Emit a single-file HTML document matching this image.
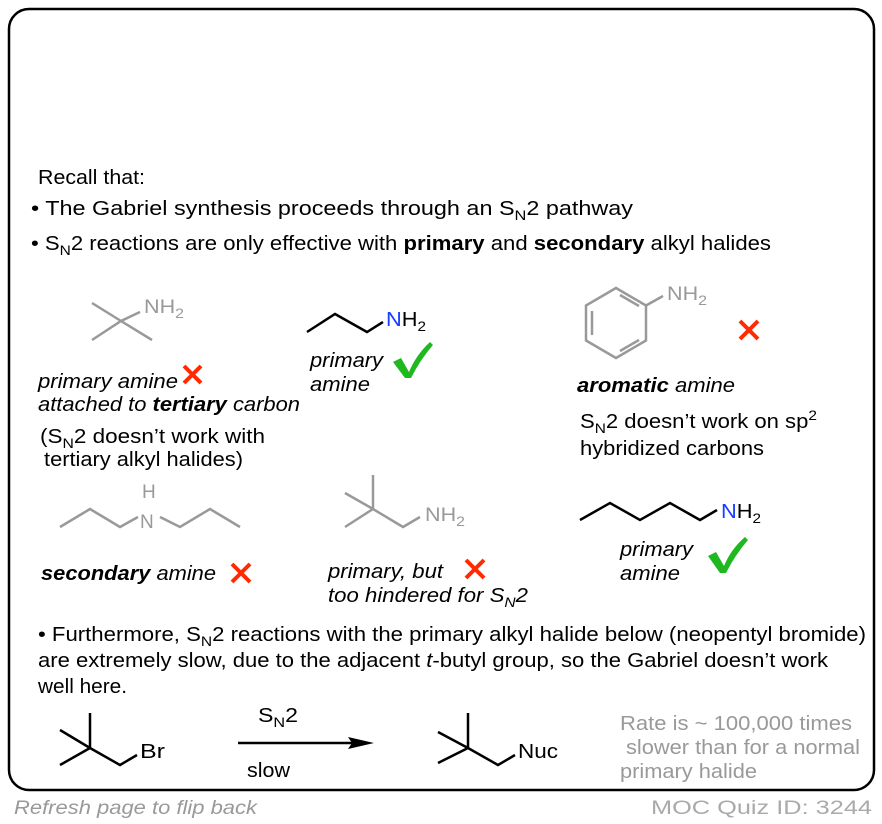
<!DOCTYPE html>
<html><head><meta charset="utf-8"><style>
html,body{margin:0;padding:0;background:#fff;}
svg{display:block;font-family:"Liberation Sans",Arial,sans-serif;}
</style></head><body>
<svg width="882" height="824" viewBox="0 0 882 824" xmlns="http://www.w3.org/2000/svg">
<rect x="9" y="9" width="865" height="781" rx="20" ry="20" fill="#fff" stroke="#000" stroke-width="2.5"/>
<g font-size="20" fill="#000">
<text x="38" y="184" textLength="107" lengthAdjust="spacingAndGlyphs">Recall that:</text>
<text x="31" y="215" textLength="602" lengthAdjust="spacingAndGlyphs">• The Gabriel synthesis proceeds through an S<tspan font-size="14" dy="5">N</tspan><tspan dy="-5">2 pathway</tspan></text>
<text x="31" y="250" textLength="740" lengthAdjust="spacingAndGlyphs">• S<tspan font-size="14" dy="5">N</tspan><tspan dy="-5">2 reactions are only effective with </tspan><tspan font-weight="bold">primary</tspan> and <tspan font-weight="bold">secondary</tspan> alkyl halides</text>
</g>
<g stroke="#999" stroke-width="2.5" fill="none">
<polyline points="92,303 121,321 152,340"/>
<polyline points="92,340 121,321 140,312"/>
</g>
<text x="144" y="313" font-size="19" fill="#999" textLength="40" lengthAdjust="spacingAndGlyphs">NH<tspan font-size="14" dy="5">2</tspan></text>
<polyline points="307,332 335,314 367,332 383,322" stroke="#000" stroke-width="2.5" fill="none"/>
<text x="386" y="326" font-size="20" fill="#000" textLength="40" lengthAdjust="spacingAndGlyphs"><tspan fill="#1a3cff">N</tspan>H<tspan font-size="14" dy="5">2</tspan></text>
<g font-size="20" font-style="italic">
<text x="38" y="388" textLength="140" lengthAdjust="spacingAndGlyphs">primary amine</text>
<text x="38" y="411" textLength="262" lengthAdjust="spacingAndGlyphs">attached to <tspan font-weight="bold">tertiary</tspan> carbon</text>
<text x="310" y="367" textLength="73" lengthAdjust="spacingAndGlyphs">primary</text>
<text x="310" y="391" textLength="60" lengthAdjust="spacingAndGlyphs">amine</text>
<text x="577" y="392" textLength="158" lengthAdjust="spacingAndGlyphs"><tspan font-weight="bold">aromatic</tspan> amine</text>
<text x="41" y="580" textLength="175" lengthAdjust="spacingAndGlyphs"><tspan font-weight="bold">secondary</tspan> amine</text>
<text x="328" y="578" textLength="115" lengthAdjust="spacingAndGlyphs">primary, but</text>
<text x="328" y="602" textLength="200" lengthAdjust="spacingAndGlyphs">too hindered for S<tspan font-size="14" dy="5">N</tspan><tspan dy="-5">2</tspan></text>
<text x="620" y="556" textLength="73" lengthAdjust="spacingAndGlyphs">primary</text>
<text x="620" y="580" textLength="60" lengthAdjust="spacingAndGlyphs">amine</text>
</g>
<g font-size="20">
<text x="40" y="443" textLength="225" lengthAdjust="spacingAndGlyphs">(S<tspan font-size="14" dy="5">N</tspan><tspan dy="-5">2 doesn’t work with</tspan></text>
<text x="44" y="466" textLength="199" lengthAdjust="spacingAndGlyphs">tertiary alkyl halides)</text>
<text x="580" y="428" textLength="237" lengthAdjust="spacingAndGlyphs">S<tspan font-size="14" dy="5">N</tspan><tspan dy="-5">2 doesn’t work on sp</tspan><tspan font-size="14" dy="-8">2</tspan></text>
<text x="580" y="455" textLength="184" lengthAdjust="spacingAndGlyphs">hybridized carbons</text>
</g>
<g stroke="#ff2a00" stroke-width="4" stroke-linecap="butt">
<path d="M184,366 L201,383 M201,366 L184,383"/>
<path d="M740,321 L758,339 M758,321 L740,339"/>
<path d="M232,564 L250,582 M250,564 L232,582"/>
<path d="M466,560 L484,578 M484,560 L466,578"/>
</g>
<g fill="#1fb91f">
<path d="M393,362 L401,358 L409,372 Q416,355 430,342 L433,345 Q420,360 411,378 L405,378 Z"/>
<path d="M708,556 L716,552 L724,566 Q731,549 745,537 L748,540 Q735,555 726,573 L720,573 Z"/>
</g>
<g stroke="#999" stroke-width="2.5" fill="none">
<polygon points="616,288 646,305.5 646,340.5 616,358 586,340.5 586,305.5"/>
<line x1="592" y1="311" x2="592" y2="335"/>
<line x1="620" y1="295" x2="639" y2="306"/>
<line x1="620" y1="351" x2="639" y2="340"/>
<line x1="646" y1="305.5" x2="663" y2="296"/>
</g>
<text x="667" y="300" font-size="19" fill="#999" textLength="40" lengthAdjust="spacingAndGlyphs">NH<tspan font-size="14" dy="5">2</tspan></text>
<polyline points="580,520 610,503 640,520 670,503 700,520 717,510" stroke="#000" stroke-width="2.5" fill="none"/>
<text x="721" y="518" font-size="20" fill="#000" textLength="40" lengthAdjust="spacingAndGlyphs"><tspan fill="#1a3cff">N</tspan>H<tspan font-size="14" dy="5">2</tspan></text>
<g stroke="#999" stroke-width="2.5" fill="none">
<polyline points="60,527 90,509 120,527 138,517"/>
<polyline points="160,517 180,527 210,509 240,527"/>
</g>
<text x="140" y="528" font-size="19" fill="#999">N</text>
<text x="142" y="498" font-size="19" fill="#999">H</text>
<g stroke="#999" stroke-width="2.5" fill="none">
<polyline points="345,493 373,509 403,527 420,517"/>
<line x1="373" y1="475" x2="373" y2="509"/>
<line x1="345" y1="527" x2="373" y2="509"/>
</g>
<text x="425" y="521" font-size="19" fill="#999" textLength="40" lengthAdjust="spacingAndGlyphs">NH<tspan font-size="14" dy="5">2</tspan></text>
<g font-size="20">
<text x="38" y="641" textLength="828" lengthAdjust="spacingAndGlyphs">• Furthermore, S<tspan font-size="14" dy="5">N</tspan><tspan dy="-5">2 reactions with the primary alkyl halide below (neopentyl bromide)</tspan></text>
<text x="38" y="667" textLength="790" lengthAdjust="spacingAndGlyphs">are extremely slow, due to the adjacent <tspan font-style="italic">t</tspan>-butyl group, so the Gabriel doesn’t work</text>
<text x="38" y="693" textLength="89" lengthAdjust="spacingAndGlyphs">well here.</text>
</g>
<g stroke="#000" stroke-width="2.5" fill="none">
<polyline points="60,730 90,748 120,765 137,755"/>
<line x1="90" y1="713" x2="90" y2="748"/>
<line x1="60" y1="765" x2="90" y2="748"/>
<polyline points="438,732 468,748 498,765 515,755"/>
<line x1="468" y1="713" x2="468" y2="748"/>
<line x1="438" y1="763" x2="468" y2="748"/>
<line x1="238" y1="743" x2="355" y2="743"/>
</g>
<path d="M374,743 L348,737 L352,743 L348,749 Z" fill="#000"/>
<text x="140" y="758" font-size="20" textLength="25" lengthAdjust="spacingAndGlyphs">Br</text>
<text x="518" y="758" font-size="20" textLength="40" lengthAdjust="spacingAndGlyphs">Nuc</text>
<text x="258" y="722" font-size="20" textLength="40" lengthAdjust="spacingAndGlyphs">S<tspan font-size="14" dy="5">N</tspan><tspan dy="-5">2</tspan></text>
<text x="247" y="777" font-size="20" textLength="43" lengthAdjust="spacingAndGlyphs">slow</text>
<g font-size="20" fill="#999">
<text x="620" y="730" textLength="232" lengthAdjust="spacingAndGlyphs">Rate is ~ 100,000 times</text>
<text x="626" y="754" textLength="234" lengthAdjust="spacingAndGlyphs">slower than for a normal</text>
<text x="620" y="778" textLength="137" lengthAdjust="spacingAndGlyphs">primary halide</text>
</g>
<text x="14" y="814" font-size="19" font-style="italic" fill="#999" textLength="243" lengthAdjust="spacingAndGlyphs">Refresh page to flip back</text>
<text x="651" y="814" font-size="19" fill="#aaa" textLength="221" lengthAdjust="spacingAndGlyphs">MOC Quiz ID: 3244</text>
</svg>
</body></html>
